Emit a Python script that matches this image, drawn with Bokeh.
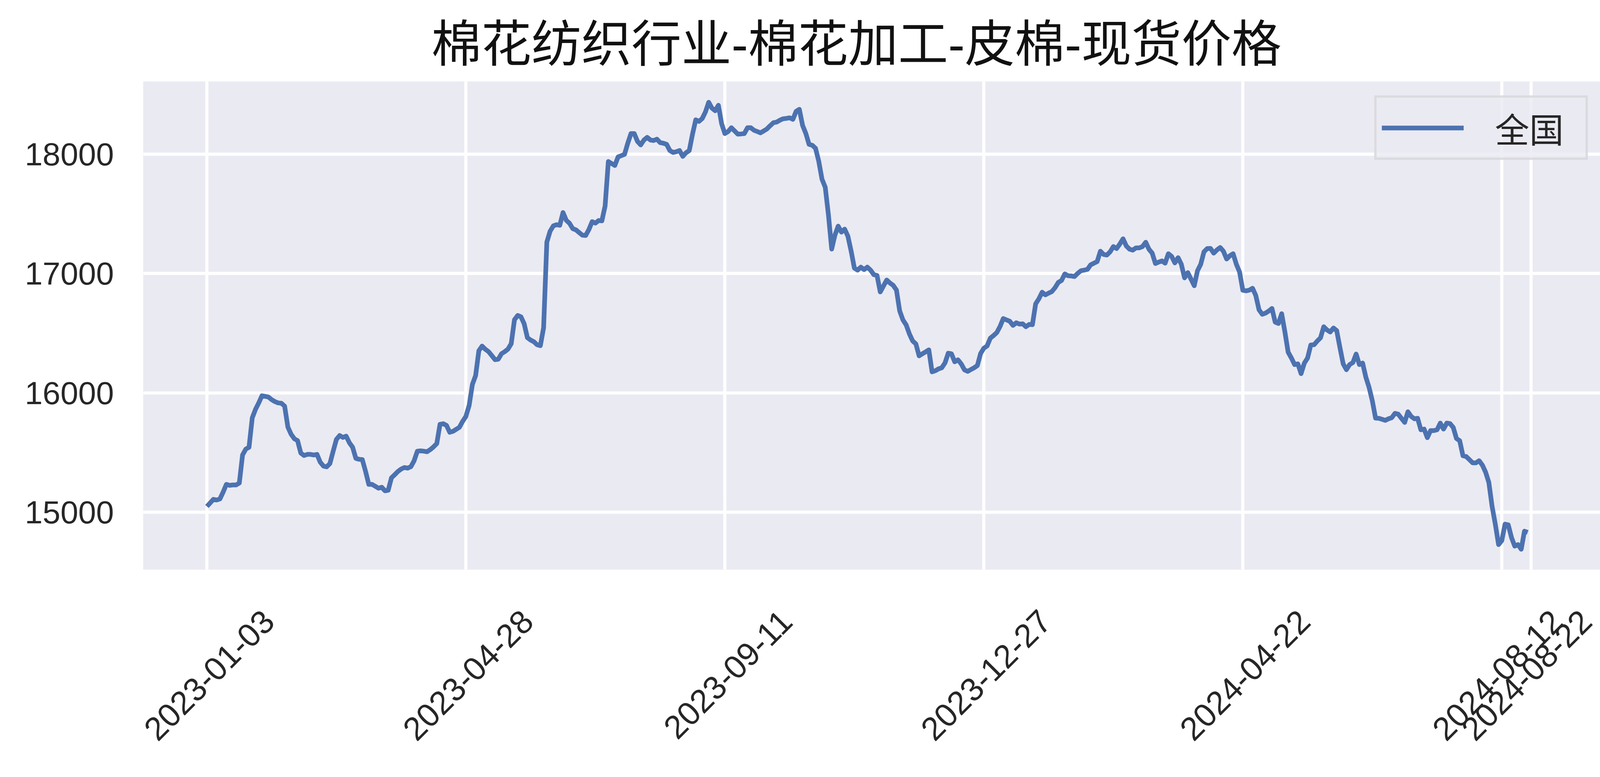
import math
from bokeh.plotting import figure
from bokeh.models import FixedTicker, Legend, LegendItem, Range1d
from bokeh.embed import file_html
from bokeh.resources import INLINE

# ---- data ----
prices = [
    15049, 15079, 15109, 15103, 15112, 15169, 15234, 15226, 15229, 15229,
    15245, 15480, 15529, 15545, 15791, 15862, 15916, 15976, 15971, 15965,
    15943, 15927, 15916, 15913, 15889, 15714, 15654, 15616, 15600, 15496,
    15476, 15485, 15485, 15480, 15485, 15420, 15387, 15381, 15409, 15512,
    15611, 15643, 15627, 15638, 15583, 15545, 15452, 15444, 15441, 15343,
    15234, 15234, 15218, 15202, 15210, 15180, 15185, 15289, 15315, 15342,
    15362, 15375, 15370, 15382, 15432, 15512, 15515, 15512, 15507, 15525,
    15548, 15575, 15737, 15742, 15728, 15670, 15678, 15695, 15712, 15762,
    15803, 15895, 16070, 16145, 16353, 16392, 16365, 16345, 16312, 16278,
    16282, 16328, 16345, 16367, 16412, 16612, 16648, 16637, 16578, 16462,
    16442, 16428, 16403, 16395, 16545, 17262, 17353, 17398, 17408, 17403,
    17510, 17445, 17420, 17375, 17365, 17342, 17320, 17318, 17368, 17434,
    17421, 17443, 17440, 17565, 17937, 17920, 17904, 17975, 17986, 17997,
    18090, 18171, 18171, 18106, 18076, 18117, 18139, 18117, 18113, 18124,
    18095, 18090, 18081, 18029, 18013, 18019, 18029, 17980, 18011, 18029,
    18166, 18286, 18273, 18297, 18352, 18433, 18384, 18362, 18408, 18253,
    18171, 18188, 18220, 18193, 18166, 18168, 18171, 18220, 18220, 18199,
    18188, 18177, 18193, 18210, 18237, 18262, 18267, 18283, 18295, 18298,
    18303, 18290, 18357, 18374, 18240, 18173, 18081, 18073, 18048, 17939,
    17789, 17722, 17488, 17204, 17321, 17396, 17346, 17371, 17312, 17187,
    17045, 17028, 17053, 17032, 17053, 17028, 16990, 16983, 16845, 16895,
    16945, 16920, 16900, 16861, 16686, 16611, 16569, 16494, 16435, 16410,
    16310, 16327, 16343, 16360, 16176, 16185, 16201, 16210, 16251, 16332,
    16327, 16260, 16277, 16243, 16193, 16180, 16195, 16210, 16229, 16330,
    16374, 16393, 16458, 16480, 16505, 16556, 16622, 16611, 16600, 16565,
    16587, 16576, 16578, 16554, 16573, 16571, 16745, 16788, 16843, 16821,
    16835, 16848, 16881, 16925, 16941, 16996, 16981, 16979, 16974, 17001,
    17023, 17028, 17034, 17072, 17086, 17099, 17186, 17159, 17154, 17181,
    17225, 17208, 17246, 17290, 17230, 17203, 17195, 17214, 17214, 17225,
    17261, 17203, 17170, 17083, 17095, 17105, 17086, 17165, 17143, 17088,
    17132, 17077, 16963, 17007, 16952, 16897, 17023, 17077, 17181, 17208,
    17210, 17170, 17197, 17217, 17186, 17121, 17148, 17165, 17077, 17012,
    16859, 16854, 16860, 16876, 16816, 16696, 16658, 16668, 16685, 16707,
    16592, 16581, 16663, 16510, 16341, 16292, 16237, 16243, 16161, 16249,
    16292, 16401, 16403, 16434, 16461, 16554, 16527, 16510, 16543, 16521,
    16379, 16243, 16194, 16237, 16254, 16325, 16237, 16250, 16132, 16046,
    15934, 15789, 15787, 15779, 15770, 15783, 15792, 15829, 15822, 15787,
    15753, 15842, 15803, 15783, 15787, 15691, 15697, 15625, 15684, 15684,
    15691, 15747, 15697, 15747, 15743, 15711, 15618, 15599, 15474, 15467,
    15441, 15414, 15414, 15432, 15395, 15336, 15250, 15050, 14900, 14730,
    14763, 14901, 14895, 14789, 14717, 14730, 14691, 14842, 14832,
]
tick_positions = [0, 80, 160, 240, 320, 400, 409]
tick_labels = ["2023-01-03", "2023-04-28", "2023-09-11", "2023-12-27",
               "2024-04-22", "2024-08-12", "2024-08-22"]
y_ticks = [15000, 16000, 17000, 18000]
series_name = "全国"
title_text = "棉花纺织行业-棉花加工-皮棉-现货价格"

# label anchor offsets (in index units) so rotated labels sit centred on their grid line
label_offsets = [19, 19, 19, 19, 19, 17, 17]

x = list(range(len(prices)))

p = figure(width=4160, height=1970, output_backend="svg", toolbar_location=None,
           x_range=Range1d(-19.7, 431), y_range=Range1d(14520, 18607),
           min_border_left=366, min_border_right=59,
           min_border_top=208, min_border_bottom=513,
           background_fill_color="#eaeaf2", border_fill_color="white")
p.outline_line_color = None

r = p.line(x, prices, line_color="#4c72b0", line_width=12, line_join="round")

# title
p.title.text = title_text
p.title.align = "left"
p.title.offset = 738
p.title.text_font = "'Liberation Sans', 'Noto Sans CJK SC'"
p.title.text_font_size = "128px"
p.title.text_font_style = "normal"
p.title.text_color = "#111111"
p.title.standoff = 48

# axes
label_pos = [t + o for t, o in zip(tick_positions, label_offsets)]
p.xaxis.ticker = FixedTicker(ticks=label_pos)
p.xaxis.major_label_overrides = {pos: lab for pos, lab in zip(label_pos, tick_labels)}
p.xaxis.major_label_orientation = math.pi / 4
p.xaxis.major_label_standoff = 118
p.yaxis.ticker = FixedTicker(ticks=y_ticks)
p.yaxis.major_label_standoff = 75
for ax in (p.xaxis, p.yaxis):
    ax.axis_line_color = None
    ax.major_tick_line_color = None
    ax.minor_tick_line_color = None
    ax.major_tick_out = 0
    ax.major_tick_in = 0
    ax.major_label_text_font = "Liberation Sans"
    ax.major_label_text_color = "#262626"
p.xaxis.major_label_text_font_size = "84px"
p.yaxis.major_label_text_font_size = "82px"

# grid
p.xgrid.ticker = FixedTicker(ticks=tick_positions)
p.grid.grid_line_color = "white"
p.grid.grid_line_width = 8

# legend
legend = Legend(items=[LegendItem(label=series_name, renderers=[r])], location="top_right")
legend.label_text_font = "Noto Sans CJK SC"
legend.label_text_font_size = "88px"
legend.label_text_color = "#262626"
legend.glyph_width = 210
legend.glyph_height = 80
legend.label_height = 80
legend.label_width = 219
legend.label_standoff = 80
legend.padding = 13
legend.spacing = 0
legend.margin = 36
legend.border_line_color = "#cccccc"
legend.border_line_width = 6
legend.background_fill_color = "#eaeaf2"
legend.background_fill_alpha = 0.8
p.add_layout(legend)

open("out.html", "w").write(file_html(p, INLINE))
